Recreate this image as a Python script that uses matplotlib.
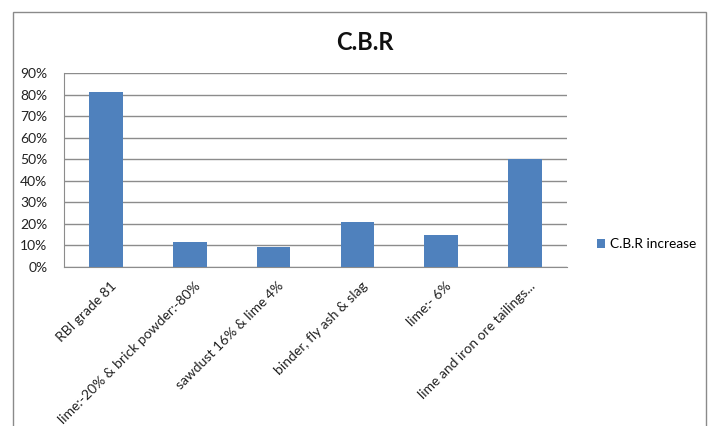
import matplotlib.pyplot as plt
import numpy as np
from matplotlib.patches import Rectangle
from matplotlib.ticker import MultipleLocator, FuncFormatter

plt.rcParams['font.family'] = ['Lato', 'DejaVu Sans']

categories = [
    "RBI grade 81",
    "lime:-20% & brick powder:-80%",
    "sawdust 16% & lime 4%",
    "binder, fly ash & slag",
    "lime:- 6%",
    "lime and iron ore tailings...",
]
cbr_increase = [81.2, 11.5, 9.1, 21.0, 14.8, 50.0]

bar_color = "#4F81BD"
grid_color = "#8C8C8C"

fig = plt.figure(figsize=(7.15, 4.26), dpi=100)

# outer chart frame
fig.patches.append(Rectangle((13 / 715, -0.05), (706 - 13) / 715, (426 - 12) / 426 + 0.05,
                             transform=fig.transFigure, fill=False,
                             edgecolor="#8A8A8A", linewidth=1.0))

ax = fig.add_axes([64 / 715, 1 - 267 / 426, (567 - 64) / 715, (267 - 73) / 426])

x = np.arange(len(categories))
ax.bar(x, cbr_increase, width=0.4, color=bar_color, label="C.B.R increase", zorder=3)

ax.set_xlim(-0.5, len(categories) - 0.5)
ax.set_ylim(0, 90)
ax.yaxis.set_major_locator(MultipleLocator(10))
ax.yaxis.set_major_formatter(FuncFormatter(lambda v, p: f"{v:.0f}%"))
ax.grid(axis="y", color=grid_color, linewidth=1.0, zorder=0)

for side in ["top", "right"]:
    ax.spines[side].set_visible(False)
ax.spines["left"].set_color(grid_color)
ax.spines["bottom"].set_color(grid_color)

ax.tick_params(axis="y", length=0, pad=12, labelsize=10, labelcolor="#222222")
ax.tick_params(axis="x", length=0, pad=9, labelsize=10, labelcolor="#222222")
ax.set_xticks(x + 0.05)
ax.set_xticklabels(categories, rotation=45, ha="right", rotation_mode="anchor")

fig.text(365 / 715, 1 - 42 / 426, "C.B.R", ha="center", va="center",
         fontsize=17, fontweight="bold", color="#111111")

ax.legend(loc="center left", bbox_to_anchor=(585 / 715, 1 - 244 / 426),
          bbox_transform=fig.transFigure, frameon=False, fontsize=9.8,
          handlelength=0.6, handleheight=0.6, handletextpad=0.3)

fig.savefig("out.png", dpi=100)
